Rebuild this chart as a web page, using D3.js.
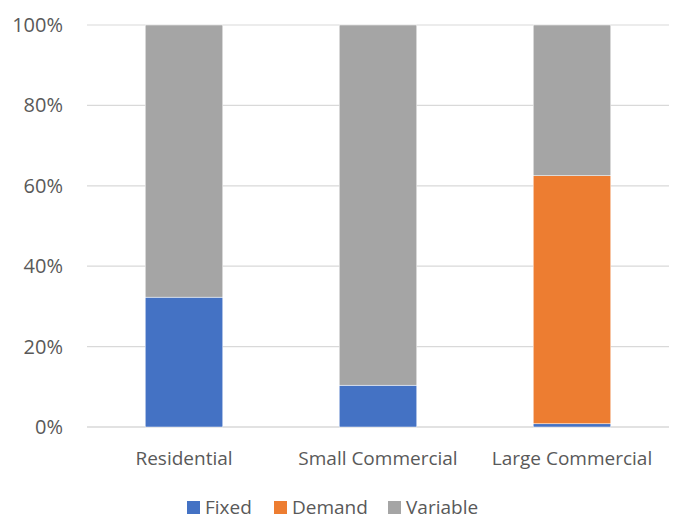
<!DOCTYPE html>
<html>
<head>
<meta charset="utf-8">
<script src="https://cdn.jsdelivr.net/npm/d3@7"></script>
<style>
  body { margin: 0; background: #fff; }
  text { font-family: "Open Sans", sans-serif; fill: #595959; }
</style>
</head>
<body>
<div id="chart"></div>
<script>
const categories = ["Residential", "Small Commercial", "Large Commercial"];
const seriesNames = ["Fixed", "Demand", "Variable"];
const fixed = [0.323, 0.104, 0.008];
const demand = [0, 0, 0.617];
const variable = [0.677, 0.896, 0.375];
const yTicks = [0, 0.2, 0.4, 0.6, 0.8, 1.0];
const colors = ["#4472C4", "#ED7D31", "#A5A5A5"];

const width = 673, height = 520;
const margin = {top: 25, right: 4, bottom: 93, left: 87};
const innerW = width - margin.left - margin.right,
  innerH = height - margin.top - margin.bottom;

const rows = categories.map((c, i) => ({
  category: c, Fixed: fixed[i], Demand: demand[i], Variable: variable[i]
}));

const svg = d3.select("#chart")
  .append("svg")
  .attr("width", width)
  .attr("height", height)
  .append("g")
  .attr("transform", `translate(${margin.left}, ${margin.top})`);

const x = d3.scaleBand()
  .domain(categories)
  .range([0, innerW])
  .paddingInner(0.6)
  .paddingOuter(0.3);

const y = d3.scaleLinear()
  .domain([0, 1])
  .range([innerH, 0]);

// grid lines
svg.append("g")
  .selectAll("line")
  .data(yTicks)
  .enter()
  .append("line")
    .attr("x1", 0)
    .attr("x2", innerW)
    .attr("y1", d => y(d))
    .attr("y2", d => y(d))
    .attr("stroke", "#D9D9D9")
    .attr("stroke-width", d => d === 0 ? 1.5 : 1.2);

// y tick labels
svg.append("g")
  .selectAll("text")
  .data(yTicks)
  .enter()
  .append("text")
    .attr("x", -24)
    .attr("y", d => y(d))
    .attr("dy", "0.35em")
    .attr("text-anchor", "end")
    .style("font-size", "20px")
    .text(d => d3.format(".0%")(d));

const stack = d3.stack().keys(seriesNames)(rows);

svg.append("g")
  .selectAll("g")
  .data(stack)
  .enter()
  .append("g")
    .attr("fill", (d, i) => colors[i])
  .selectAll("rect")
  .data(d => d)
  .enter()
  .append("rect")
    .attr("x", d => x(d.data.category))
    .attr("width", x.bandwidth())
    .attr("y", d => y(d[1]))
    .attr("height", d => y(d[0]) - y(d[1]))
    .attr("stroke", "#fff")
    .attr("stroke-width", 0.5);

// category labels
svg.append("g")
  .selectAll("text")
  .data(categories)
  .enter()
  .append("text")
    .attr("x", d => x(d) + x.bandwidth() / 2)
    .attr("y", innerH + 38)
    .attr("text-anchor", "middle")
    .style("font-size", "19px")
    .text(d => d);

// legend
const legendX = [187, 274, 388];
const legend = d3.select("svg").append("g");
seriesNames.forEach((name, i) => {
  legend.append("rect")
    .attr("x", legendX[i])
    .attr("y", 501)
    .attr("width", 13)
    .attr("height", 13)
    .attr("fill", colors[i]);
  legend.append("text")
    .attr("x", legendX[i] + 18)
    .attr("y", 514)
    .style("font-size", "19px")
    .text(name);
});
</script>
</body>
</html>
